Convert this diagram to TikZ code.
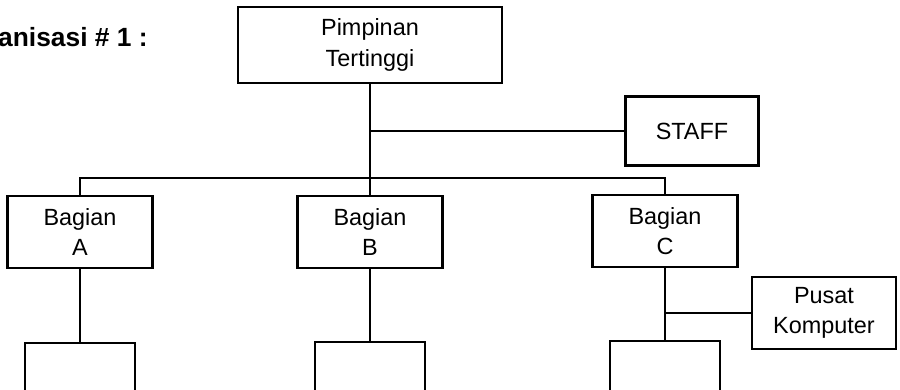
\documentclass[tikz,border=0pt]{standalone}
\usepackage{fontspec}
\setmainfont{Liberation Sans}
\usepackage{tikz}
\usetikzlibrary{positioning,calc}
\tikzset{
  unit/.style 2 args={rectangle, draw=black, line width=1.9pt, fill=white, align=center,
              minimum width=#1*0.3mm, minimum height=#2*0.3mm, inner sep=0pt,
              font=\fontsize{20}{26}\selectfont},
  link/.style={line width=1.9pt, black},
  heading/.style={anchor=west, inner sep=0pt, font=\fontsize{22.5}{26}\selectfont\bfseries},
}
\begin{document}
\begin{tikzpicture}[x=0.3mm,y=-0.3mm]
\clip (0,0) rectangle (900,390);
\node[heading] (ttl) at (-2,37) {anisasi \# 1 :};
\node[unit={264}{76}] (top)   at (370,45)  {Pimpinan\\Tertinggi};
\node[unit={133}{69}] (staff) at (692,131) {STAFF};
\node[unit={145}{72}] (A)     at (80,232)  {Bagian\\A};
\node[unit={145}{72}] (B)     at (370,232) {Bagian\\B};
\node[unit={145}{72}] (C)     at (665,231) {Bagian\\C};
\node[unit={144}{72}] (pusat) at (824,313) {Pusat\\Komputer};
\node[unit={110}{100}] (A1)   at (80,393)  {};
\node[unit={110}{100}] (B1)   at (370,392) {};
\node[unit={110}{100}] (C1)   at (665,391) {};
\coordinate (jS)  at (top.south |- staff.west);
\coordinate (bus) at (370,178);
\coordinate (jP)  at (C.south |- pusat.west);
\draw[link] (top.south) -- (B.north);
\draw[link] (jS) -- (staff.west);
\draw[link] (A.north) |- (bus) -| (C.north);
\draw[link] (A.south) -- (A1.north);
\draw[link] (B.south) -- (B1.north);
\draw[link] (C.south) -- (C1.north);
\draw[link] (jP) -- (pusat.west);
\end{tikzpicture}
\end{document}
